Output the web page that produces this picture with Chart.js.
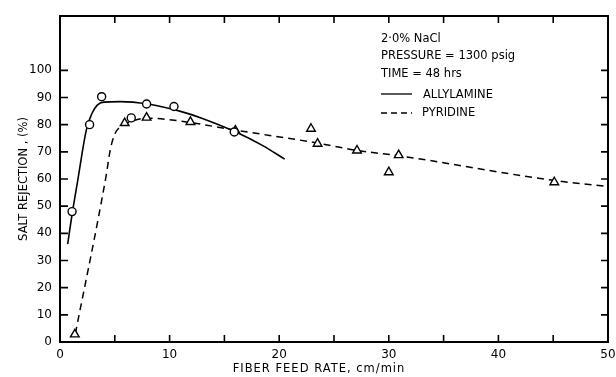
<!DOCTYPE html>
<html>
<head>
<meta charset="utf-8">
<script src="https://cdn.jsdelivr.net/npm/chart.js@4/dist/chart.umd.min.js"></script>
<style>
  html, body { margin: 0; padding: 0; background: #fff; }
  #wrap { width: 616px; height: 377px; }
</style>
</head>
<body>
<div id="wrap"><canvas id="myChartCanvas"></canvas></div>
<script>
// measured points (circles = allylamine, triangles = pyridine)
const allylX = [1.1, 2.7, 3.8, 6.5, 7.9, 10.4, 15.9];
const allylY = [48, 80, 90.3, 82.5, 87.6, 86.7, 77.3];
const pyrX = [1.35, 5.9, 7.9, 11.9, 16.0, 22.9, 23.5, 27.1, 30.0, 30.9, 45.1];
const pyrY = [2.8, 80.6, 82.6, 81, 77.8, 78.5, 73, 70.5, 62.5, 68.8, 58.8];

// fitted curves
const allylCurveX = [0.7, 1.1, 1.6, 2.4, 2.9, 3.4, 4.0, 5.5, 8, 11, 13, 16, 18.5, 20.5];
const allylCurveY = [36, 47, 59, 78, 84, 87.2, 88.3, 88.5, 87.6, 84.9, 82.3, 77.4, 72.3, 67.3];
const pyrCurveX = [1.4, 4.2, 4.6, 5.0, 5.6, 6.5, 8, 11, 16, 23.4, 27, 31, 45, 50];
const pyrCurveY = [3, 61, 71, 76.5, 79.5, 81.2, 82.4, 81.3, 78, 73.3, 70.6, 68.5, 59.5, 57.2];

const noteLines = ['2\u00B70% NaCl', 'PRESSURE = 1300 psig', 'TIME = 48 hrs'];
const legendNames = ['ALLYLAMINE', 'PYRIDINE'];

const FONT = '"DejaVu Sans", sans-serif';
const toXY = (xs, ys) => xs.map((x, i) => ({ x: x, y: ys[i] }));

const frameTicks = {
  id: 'frameTicks',
  afterDraw(chart) {
    const ctx = chart.ctx;
    const a = chart.chartArea;
    const xs = chart.scales.x, ys = chart.scales.y;
    ctx.save();
    ctx.strokeStyle = '#000';
    ctx.lineWidth = 2;
    ctx.strokeRect(a.left, a.top, a.right - a.left, a.bottom - a.top);
    ctx.lineWidth = 1.6;
    ctx.beginPath();
    for (let v = 5; v < 50; v += 5) {
      const px = xs.getPixelForValue(v);
      ctx.moveTo(px, a.bottom); ctx.lineTo(px, a.bottom - 7);
      ctx.moveTo(px, a.top); ctx.lineTo(px, a.top + 7);
    }
    for (let v = 10; v <= 100; v += 10) {
      const py = ys.getPixelForValue(v);
      ctx.moveTo(a.left, py); ctx.lineTo(a.left + 8, py);
      ctx.moveTo(a.right, py); ctx.lineTo(a.right - 7, py);
    }
    ctx.stroke();

    // notes + legend
    ctx.fillStyle = '#000';
    ctx.font = '11.5px ' + FONT;
    ctx.textBaseline = 'middle';
    ctx.textAlign = 'left';
    const nx = 381;
    noteLines.forEach((t, i) => ctx.fillText(t, nx, 39 + i * 17.5));
    ctx.lineWidth = 1.3;
    ctx.beginPath();
    ctx.moveTo(nx, 94); ctx.lineTo(nx + 31, 94);
    ctx.stroke();
    ctx.setLineDash([6, 4]);
    ctx.beginPath();
    ctx.moveTo(nx, 113); ctx.lineTo(nx + 31, 113);
    ctx.stroke();
    ctx.setLineDash([]);
    ctx.fillText(legendNames[0], 423, 95);
    ctx.fillText(legendNames[1], 422, 113);

    // x axis title
    ctx.font = '11.5px ' + FONT;
    ctx.letterSpacing = '1px';
    ctx.textAlign = 'center';
    ctx.fillText('FIBER FEED RATE, cm/min', 319, 369);
    ctx.restore();
  }
};

const config = {
  type: 'scatter',
  data: {
    datasets: [
      {
        label: 'Allylamine data',
        data: toXY(allylX, allylY),
        pointStyle: 'circle',
        pointRadius: 4,
        pointBorderWidth: 1.4,
        pointBorderColor: '#000',
        pointBackgroundColor: '#fff',
        showLine: false
      },
      {
        label: 'Pyridine data',
        data: toXY(pyrX, pyrY),
        pointStyle: 'triangle',
        pointRadius: 5,
        pointBorderWidth: 1.4,
        pointBorderColor: '#000',
        pointBackgroundColor: '#fff',
        showLine: false
      },
      {
        label: 'Allylamine',
        data: toXY(allylCurveX, allylCurveY),
        showLine: true,
        pointRadius: 0,
        borderColor: '#000',
        borderWidth: 1.6,
        tension: 0.4,
        cubicInterpolationMode: 'monotone'
      },
      {
        label: 'Pyridine',
        data: toXY(pyrCurveX, pyrCurveY),
        showLine: true,
        pointRadius: 0,
        borderColor: '#000',
        borderWidth: 1.5,
        borderDash: [7, 5],
        tension: 0.4,
        cubicInterpolationMode: 'monotone'
      }
    ]
  },
  options: {
    responsive: false,
    animation: false,
    devicePixelRatio: 1,
    layout: { padding: { left: 0, top: 16, right: 8, bottom: 0 } },
    plugins: {
      legend: { display: false },
      tooltip: { enabled: false }
    },
    scales: {
      x: {
        type: 'linear',
        min: 0, max: 50,
        grid: { display: false, drawTicks: false },
        border: { display: false },
        ticks: {
          stepSize: 5,
          autoSkip: false,
          maxRotation: 0,
          padding: 6,
          color: '#000',
          font: { family: FONT, size: 12 },
          callback: (v) => (v % 10 === 0 ? v : '')
        },
        afterFit(s) { s.height = 35; s.paddingLeft = 0; s.paddingRight = 0; }
      },
      y: {
        type: 'linear',
        min: 0, max: 120,
        grid: { display: false, drawTicks: false },
        border: { display: false },
        ticks: {
          stepSize: 10,
          padding: 8,
          color: '#000',
          font: { family: FONT, size: 12 },
          callback: (v) => (v <= 100 ? v : '')
        },
        title: {
          display: true,
          text: 'SALT REJECTION , (%)',
          color: '#000',
          font: { family: FONT, size: 11.5 },
          padding: { top: 17, bottom: 0 }
        },
        afterFit(s) { s.width = 60; s.paddingTop = 0; s.paddingBottom = 0; }
      }
    }
  },
  plugins: [frameTicks]
};

const canvasEl = document.getElementById('myChartCanvas');
canvasEl.width = 616;
canvasEl.height = 377;
const chart = new Chart(canvasEl, config);
</script>
</body>
</html>
